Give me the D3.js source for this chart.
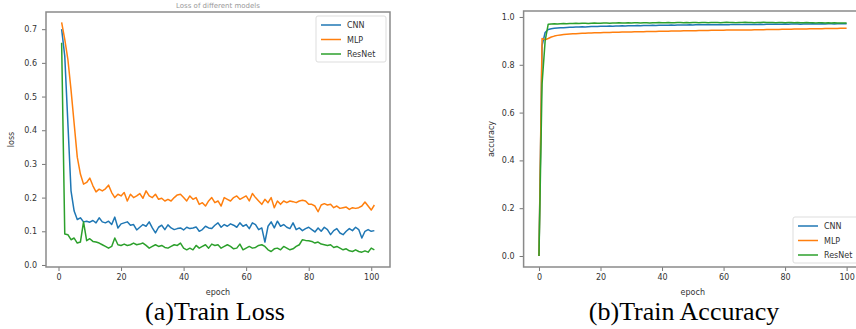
<!DOCTYPE html>
<html>
<head>
<meta charset="utf-8">
<script src="https://cdn.jsdelivr.net/npm/d3@7"></script>
<style>
  body { margin: 0; background: #fff; }
  svg { display: block; }
  .tick text { font-family: "DejaVu Sans", sans-serif; font-size: 8px; fill: #333; }
  .tick line { stroke: #777; }
</style>
</head>
<body>
<svg id="fig" width="856" height="329"></svg>
<script>
// series names and colours (matplotlib defaults)
const models = ["CNN", "MLP", "ResNet"];
const colors = ["#1f77b4", "#ff7f0e", "#2ca02c"];

// train loss, epochs 1..101
const lossEpochs = d3.range(1, 102);
const lossCNN = [0.70, 0.62, 0.42, 0.22, 0.16, 0.135, 0.14, 0.128, 0.13, 0.127,
  0.132, 0.125, 0.14, 0.128, 0.125, 0.13, 0.12, 0.142, 0.11, 0.122,
  0.125, 0.128, 0.118, 0.12, 0.104, 0.112, 0.12, 0.115, 0.128, 0.11,
  0.095, 0.112, 0.118, 0.105, 0.119, 0.11, 0.105, 0.108, 0.11, 0.104,
  0.112, 0.108, 0.11, 0.113, 0.1, 0.105, 0.115, 0.11, 0.108, 0.118,
  0.125, 0.112, 0.12, 0.115, 0.122, 0.118, 0.112, 0.125, 0.115, 0.12,
  0.108, 0.125, 0.12, 0.105, 0.11, 0.068, 0.115, 0.128, 0.11, 0.13,
  0.115, 0.12, 0.112, 0.108, 0.125, 0.105, 0.11, 0.102, 0.108, 0.112,
  0.105, 0.098, 0.11, 0.1, 0.112, 0.105, 0.09, 0.102, 0.108, 0.095,
  0.09, 0.1, 0.108, 0.102, 0.112, 0.105, 0.08, 0.1, 0.105, 0.1, 0.102];
const lossMLP = [0.72, 0.67, 0.61, 0.52, 0.42, 0.32, 0.27, 0.24, 0.245, 0.258,
  0.235, 0.217, 0.225, 0.22, 0.226, 0.237, 0.215, 0.2, 0.21, 0.205,
  0.215, 0.19, 0.21, 0.2, 0.205, 0.212, 0.198, 0.22, 0.205, 0.2,
  0.21, 0.195, 0.198, 0.19, 0.195, 0.19, 0.2, 0.208, 0.21, 0.2,
  0.19, 0.205, 0.195, 0.2, 0.18, 0.185, 0.175, 0.19, 0.2, 0.185,
  0.19, 0.175, 0.2, 0.195, 0.19, 0.2, 0.205, 0.195, 0.2, 0.205,
  0.19, 0.212, 0.2, 0.19, 0.18, 0.195, 0.185, 0.2, 0.17, 0.19,
  0.18, 0.19, 0.185, 0.19, 0.188, 0.185, 0.19, 0.192, 0.19, 0.18,
  0.18, 0.175, 0.158, 0.178, 0.182, 0.178, 0.18, 0.17, 0.175, 0.168,
  0.17, 0.172, 0.165, 0.17, 0.168, 0.17, 0.175, 0.187, 0.175, 0.163, 0.178];
const lossResNet = [0.66, 0.092, 0.09, 0.075, 0.08, 0.065, 0.068, 0.128, 0.072, 0.078,
  0.07, 0.068, 0.065, 0.06, 0.055, 0.05, 0.055, 0.08, 0.06, 0.058,
  0.062, 0.058, 0.06, 0.065, 0.06, 0.062, 0.065, 0.058, 0.05, 0.055,
  0.06, 0.055, 0.058, 0.052, 0.05, 0.055, 0.06, 0.058, 0.065, 0.05,
  0.045, 0.05, 0.045, 0.058, 0.05, 0.055, 0.06, 0.05, 0.062, 0.058,
  0.06, 0.05, 0.055, 0.06, 0.055, 0.048, 0.05, 0.062, 0.045, 0.05,
  0.055, 0.05, 0.052, 0.058, 0.06, 0.055, 0.045, 0.04, 0.048, 0.05,
  0.045, 0.055, 0.05, 0.045, 0.048, 0.055, 0.06, 0.075, 0.073, 0.072,
  0.07, 0.065, 0.068, 0.062, 0.06, 0.058, 0.06, 0.052, 0.055, 0.05,
  0.045, 0.048, 0.042, 0.04, 0.045, 0.04, 0.038, 0.042, 0.038, 0.05, 0.045];

// train accuracy, epochs 0..100
const accEpochs = d3.range(0, 101);
const accCNN = [0, 0.88, 0.935, 0.948, 0.951, 0.953, 0.954, 0.955, 0.955, 0.956,
  0.957, 0.957, 0.958, 0.958, 0.959, 0.958, 0.959, 0.960, 0.960, 0.960,
  0.961, 0.961, 0.961, 0.962, 0.961, 0.962, 0.962, 0.963, 0.962, 0.963,
  0.963, 0.963, 0.964, 0.963, 0.964, 0.964, 0.964, 0.965, 0.964, 0.965,
  0.965, 0.965, 0.965, 0.966, 0.965, 0.966, 0.966, 0.966, 0.966, 0.967,
  0.966, 0.967, 0.967, 0.967, 0.967, 0.967, 0.968, 0.967, 0.968, 0.968,
  0.968, 0.968, 0.968, 0.969, 0.968, 0.969, 0.968, 0.969, 0.969, 0.969,
  0.969, 0.969, 0.970, 0.969, 0.970, 0.970, 0.970, 0.970, 0.970, 0.970,
  0.971, 0.970, 0.971, 0.971, 0.971, 0.970, 0.971, 0.971, 0.971, 0.972,
  0.971, 0.971, 0.972, 0.971, 0.972, 0.972, 0.971, 0.972, 0.972, 0.972, 0.972];
const accMLP = [0, 0.91, 0.905, 0.910, 0.916, 0.920, 0.923, 0.925, 0.927, 0.928,
  0.929, 0.930, 0.930, 0.931, 0.932, 0.932, 0.933, 0.933, 0.934, 0.934,
  0.934, 0.935, 0.935, 0.935, 0.936, 0.936, 0.936, 0.937, 0.937, 0.937,
  0.937, 0.938, 0.938, 0.938, 0.938, 0.939, 0.939, 0.939, 0.939, 0.940,
  0.940, 0.940, 0.940, 0.941, 0.941, 0.941, 0.941, 0.942, 0.942, 0.942,
  0.942, 0.942, 0.943, 0.943, 0.943, 0.943, 0.944, 0.944, 0.944, 0.944,
  0.944, 0.945, 0.945, 0.945, 0.945, 0.946, 0.946, 0.946, 0.946, 0.946,
  0.947, 0.947, 0.947, 0.947, 0.948, 0.948, 0.948, 0.948, 0.948, 0.949,
  0.949, 0.949, 0.949, 0.950, 0.950, 0.950, 0.950, 0.950, 0.951, 0.951,
  0.951, 0.951, 0.951, 0.952, 0.952, 0.952, 0.952, 0.952, 0.953, 0.953, 0.953];
const accResNet = [0, 0.72, 0.90, 0.970, 0.971, 0.972, 0.971, 0.972, 0.973, 0.972,
  0.973, 0.973, 0.974, 0.973, 0.974, 0.974, 0.973, 0.974, 0.975, 0.974,
  0.974, 0.975, 0.975, 0.974, 0.975, 0.975, 0.976, 0.975, 0.975, 0.976,
  0.975, 0.976, 0.976, 0.975, 0.976, 0.976, 0.975, 0.976, 0.976, 0.977,
  0.976, 0.976, 0.977, 0.976, 0.976, 0.977, 0.977, 0.976, 0.977, 0.976,
  0.977, 0.977, 0.976, 0.977, 0.977, 0.976, 0.977, 0.977, 0.977, 0.976,
  0.977, 0.978, 0.977, 0.977, 0.976, 0.977, 0.977, 0.978, 0.977, 0.977,
  0.976, 0.977, 0.977, 0.978, 0.977, 0.977, 0.977, 0.976, 0.977, 0.977,
  0.976, 0.977, 0.977, 0.976, 0.977, 0.976, 0.976, 0.977, 0.976, 0.976,
  0.975, 0.976, 0.976, 0.975, 0.976, 0.975, 0.976, 0.975, 0.975, 0.975, 0.975];

const xTicks = [0, 20, 40, 60, 80, 100];
const lossTicks = [0.0, 0.1, 0.2, 0.3, 0.4, 0.5, 0.6, 0.7];
const accTicks = [0.0, 0.2, 0.4, 0.6, 0.8, 1.0];

const svg = d3.select("#fig");

function panel(opt) {
  const x = d3.scaleLinear().domain(opt.xDomain).range([opt.left, opt.right]);
  const y = d3.scaleLinear().domain(opt.yDomain).range([opt.bottom, opt.top]);
  const g = svg.append("g");

  // axes
  g.append("g")
    .attr("transform", "translate(0," + opt.bottom + ")")
    .call(d3.axisBottom(x).tickValues(xTicks).tickSize(4).tickPadding(3).tickFormat(d3.format("d")))
    .call(a => a.select(".domain").remove());
  g.append("g")
    .attr("transform", "translate(" + opt.left + ",0)")
    .call(d3.axisLeft(y).tickValues(opt.yTicks).tickSize(4).tickPadding(5).tickFormat(d3.format(".1f")))
    .call(a => a.select(".domain").remove());

  // lines
  const line = d3.line().x(d => x(d[0])).y(d => y(d[1]));
  opt.series.forEach((s, i) => {
    g.append("path")
      .datum(opt.epochs.map((e, j) => [e, s[j]]))
      .attr("fill", "none")
      .attr("stroke", colors[i])
      .attr("stroke-width", 1.5)
      .attr("stroke-linejoin", "round")
      .attr("d", line);
  });

  // frame
  g.append("rect")
    .attr("x", opt.left).attr("y", opt.top)
    .attr("width", opt.right - opt.left).attr("height", opt.bottom - opt.top)
    .attr("fill", "none").attr("stroke", "#8a8a8a").attr("stroke-width", 1.5);

  // labels
  g.append("text")
    .attr("x", (opt.left + opt.right) / 2).attr("y", 295)
    .attr("text-anchor", "middle")
    .style("font-family", "DejaVu Sans, sans-serif").style("font-size", "8px").style("fill", "#333")
    .text("epoch");
  g.append("text")
    .attr("transform", "translate(" + opt.yLabelX + "," + (opt.top + opt.bottom) / 2 + ") rotate(-90)")
    .attr("text-anchor", "middle")
    .style("font-family", "DejaVu Sans, sans-serif").style("font-size", "8px").style("fill", "#333")
    .text(opt.yLabel);

  // legend
  const lg = g.append("g").attr("transform", "translate(" + opt.legend[0] + "," + opt.legend[1] + ")");
  lg.append("rect")
    .attr("width", 70).attr("height", 46).attr("rx", 2)
    .attr("fill", "#fff").attr("stroke", "#ddd").attr("stroke-width", 1);
  models.forEach((m, i) => {
    const yy = 9 + i * 14.5;
    lg.append("line").attr("x1", 5).attr("x2", 25).attr("y1", yy).attr("y2", yy)
      .attr("stroke", colors[i]).attr("stroke-width", 1.5);
    lg.append("text").attr("x", 31).attr("y", yy + 3)
      .style("font-family", "DejaVu Sans, sans-serif").style("font-size", "8px").style("fill", "#333")
      .text(m);
  });

  // caption
  svg.append("text")
    .attr("x", opt.captionX).attr("y", 320)
    .attr("text-anchor", "middle")
    .style("font-family", "Liberation Serif, Times New Roman, serif").style("font-size", "26px").style("fill", "#000")
    .text(opt.caption);
}

panel({
  left: 46, right: 390, top: 12, bottom: 267,
  xDomain: [-4, 106], yDomain: [-0.006, 0.751], yTicks: lossTicks,
  epochs: lossEpochs, series: [lossCNN, lossMLP, lossResNet],
  yLabel: "loss", yLabelX: 14, legend: [316, 16],
  caption: "(a)Train Loss", captionX: 215
});
// small title above the left panel
svg.append("text")
  .attr("x", 218).attr("y", 8).attr("text-anchor", "middle")
  .style("font-family", "DejaVu Sans, sans-serif").style("font-size", "7px").style("fill", "#999")
  .text("Loss of different models");

panel({
  left: 523.6, right: 862, top: 11, bottom: 267,
  xDomain: [-5, 105], yDomain: [-0.046, 1.025], yTicks: accTicks,
  epochs: accEpochs, series: [accCNN, accMLP, accResNet],
  yLabel: "accuracy", yLabelX: 494, legend: [793, 217],
  caption: "(b)Train Accuracy", captionX: 684
});
</script>
</body>
</html>
